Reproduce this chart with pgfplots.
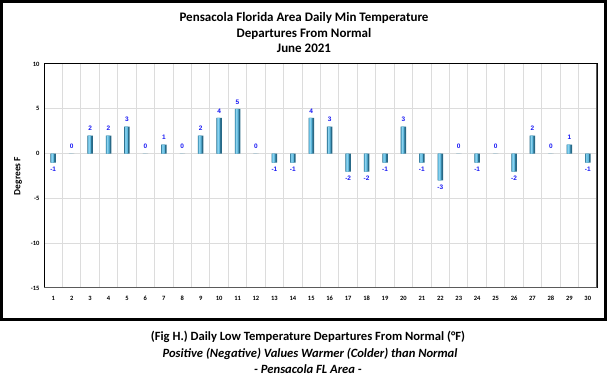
\documentclass[border=0pt]{standalone}
\usepackage{fontspec}
\setmainfont{Carlito}
\newfontfamily\arialfont{Liberation Sans}
\usepackage{pgfplots}
\usepackage{pgfplotstable}
\pgfplotsset{compat=1.18}
\pgfplotstableread{
day dep
1 -1
2 0
3 2
4 2
5 3
6 0
7 1
8 0
9 2
10 4
11 5
12 0
13 -1
14 -1
15 4
16 3
17 -2
18 -2
19 -1
20 3
21 -1
22 -3
23 0
24 -1
25 0
26 -2
27 2
28 0
29 1
30 -1
}\deptable
\definecolor{gridgray}{RGB}{220,220,220}
\definecolor{barlight}{RGB}{95,185,222}
\definecolor{barhi}{RGB}{140,210,238}
\definecolor{bardark}{RGB}{40,105,135}
\definecolor{labelblue}{RGB}{25,25,245}
\definecolor{framegray}{RGB}{90,90,90}
\begin{document}
\begin{tikzpicture}
\useasboundingbox (0pt,0pt) rectangle (608pt,383pt);
\fill[white] (0pt,0pt) rectangle (608pt,383pt);
\draw[line width=3pt] (1.5pt,381.5pt) rectangle (605.5pt,63.5pt);
\node[font=\bfseries\fontsize{13}{15.5}\selectfont, align=center] at (304pt,350.5pt) {Pensacola Florida Area Daily Min Temperature\\Departures From Normal\\June 2021};
\begin{axis}[
  at={(44pt,95pt)}, anchor=south west, scale only axis,
  width=553pt, height=224pt,
  xmin=0.5, xmax=30.5, ymin=-15, ymax=10,
  ytick={-15,-10,...,10},
  xtick={1,...,30},
  minor xtick={1.5,2.5,...,29.5},
  xminorgrids=true, ymajorgrids=true,
  grid style={draw=gridgray, line width=1pt},
  minor grid style={draw=gridgray, line width=1pt},
  major tick length=0pt, minor tick length=0pt,
  axis line style={draw=black, line width=1pt},
  /pgf/number format/assume math mode=true,
  ticklabel style={font=\bfseries\fontsize{6.5}{7}\selectfont},
  xticklabel style={text height=5pt, text depth=0pt, yshift=-4pt},
  yticklabel style={xshift=-1pt},
  ylabel={Degrees F},
  ylabel style={font=\bfseries\fontsize{9.5}{10}\selectfont, at={(axis description cs:-0.047,0.5)}, anchor=center},
  ybar, bar shift=0pt,
]
\addplot[draw=none, fill=bardark, bar width=5.5pt,
  nodes near coords,
  every node near coord/.append style={font=\arialfont\bfseries\fontsize{6.5}{7}\selectfont, text=labelblue, inner xsep=1pt, inner ysep=4.5pt}]
  table[x=day, y=dep] {\deptable};
\addplot[draw=none, fill=barlight, bar width=3.2pt, bar shift=-0.6pt] table[x=day, y=dep] {\deptable};
\addplot[draw=none, fill=barhi, bar width=1.2pt, bar shift=-0.9pt] table[x=day, y=dep] {\deptable};
\draw[framegray, line width=1.5pt] (rel axis cs:1,1) -- (rel axis cs:1,0) -- (rel axis cs:0,0);
\end{axis}
\node[font=\bfseries\fontsize{12.6}{14}\selectfont] at (308pt,46pt) {(Fig H.) Daily Low Temperature Departures From Normal (°F)};
\node[font=\bfseries\itshape\fontsize{12.6}{14}\selectfont] at (310pt,29pt) {Positive (Negative) Values Warmer (Colder) than Normal};
\node[font=\bfseries\itshape\fontsize{12.6}{14}\selectfont] at (308pt,14pt) {- Pensacola FL Area -};
\end{tikzpicture}
\end{document}
